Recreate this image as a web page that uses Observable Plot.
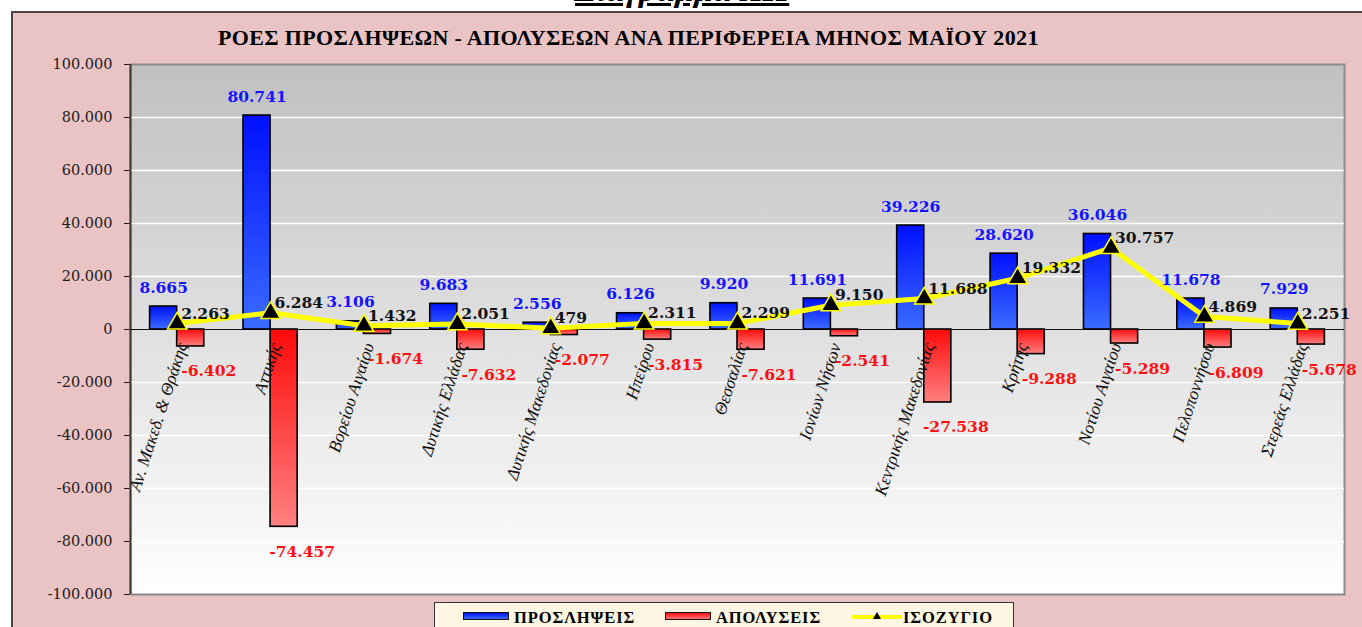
<!DOCTYPE html>
<html><head><meta charset="utf-8">
<script src="https://cdn.jsdelivr.net/npm/d3@7"></script>
<script src="https://cdn.jsdelivr.net/npm/@observablehq/plot@0.6"></script>
<style>
html,body{margin:0;padding:0;background:#fff;width:1362px;height:627px;overflow:hidden;position:relative;font-family:"Liberation Serif",serif}
#heading{position:absolute;left:575px;top:-27px;font:italic bold 34px/34px "Liberation Serif";text-decoration:underline;white-space:nowrap;color:#000}
#panel{position:absolute;left:11px;top:11px;width:1400px;height:700px;background:#eac3c5;border-left:2px solid #4d4444;border-top:2px solid #4d4444}
#title{position:absolute;left:218px;top:25px;font:bold 22px "Liberation Serif";letter-spacing:0.35px;white-space:nowrap;color:#000}
#chart{position:absolute;left:0;top:50px}
#legend{position:absolute;left:434px;top:602px;width:578px;height:40px;background:#fdf6e2;border:1px solid #333}
.li{position:absolute;top:5px;font:bold 16.5px "Liberation Serif";white-space:nowrap;color:#000;letter-spacing:0.9px}
.sw{position:absolute;top:9px;width:44px;height:6px;border:1.5px solid #111}
</style></head>
<body>
<div id="heading">Διάγραμμα ΧΙΙ</div>
<div id="panel"></div>
<div id="title">ΡΟΕΣ ΠΡΟΣΛΗΨΕΩΝ - ΑΠΟΛΥΣΕΩΝ ΑΝΑ ΠΕΡΙΦΕΡΕΙΑ ΜΗΝΟΣ ΜΑΪΟΥ 2021</div>
<div id="chart"></div>
<div id="legend">
  <div class="sw" style="left:28px;background:linear-gradient(#0010ff,#3a6bff)"></div>
  <div class="li" style="left:79px">ΠΡΟΣΛΗΨΕΙΣ</div>
  <div class="sw" style="left:230px;background:linear-gradient(#ff1010,#ff7070)"></div>
  <div class="li" style="left:281px">ΑΠΟΛΥΣΕΙΣ</div>
  <svg style="position:absolute;left:417px;top:6px" width="50" height="14">
    <line x1="0" y1="8" x2="50" y2="8" stroke="#ffff00" stroke-width="4"/>
    <path d="M25,3 L29,10 L21,10 Z" fill="#000"/>
  </svg>
  <div class="li" style="left:468px">ΙΣΟΖΥΓΙΟ</div>
</div>
<script>
const categories = ["Αν. Μακεδ. & Θράκης","Αττικής","Βορείου Αιγαίου","Δυτικής Ελλάδας","Δυτικής Μακεδονίας","Ηπείρου","Θεσσαλίας","Ιονίων Νήσων","Κεντρικής Μακεδονίας","Κρήτης","Νοτίου Αιγαίου","Πελοποννήσου","Στερεάς Ελλάδας"];
const hires   = [8665, 80741, 3106, 9683, 2556, 6126, 9920, 11691, 39226, 28620, 36046, 11678, 7929];
const fires   = [-6402, -74457, -1674, -7632, -2077, -3815, -7621, -2541, -27538, -9288, -5289, -6809, -5678];
const balance = [2263, 6284, 1432, 2051, 479, 2311, 2299, 9150, 11688, 19332, 30757, 4869, 2251];
const yTicks  = [-100000, -80000, -60000, -40000, -20000, 0, 20000, 40000, 60000, 80000, 100000];

const fmt = d3.formatLocale({decimal: ",", thousands: ".", grouping: [3], currency: ["", "€"], minus: "-"}).format(",d");
const idx = categories.map((_, i) => i);
const xDomain = [-0.5, categories.length - 0.5];
const bounds = d3.range(categories.length + 1).map(i => i - 0.5);
const bw = 0.29;

const serif = "DejaVu Serif";
const chart = Plot.plot({
  width: 1362, height: 560,
  marginLeft: 130, marginRight: 18, marginTop: 14, marginBottom: 16,
  style: {background: "transparent", fontFamily: serif, fontSize: "14.5px", color: "#1a1a1a", overflow: "visible"},
  x: {domain: xDomain, axis: null},
  y: {domain: [-100000, 100000], ticks: yTicks, tickFormat: fmt, tickSize: 6, tickPadding: 12, label: null},
  marks: [
    Plot.frame({fill: "url(#bgGrad)", stroke: "#8a8a8a", strokeWidth: 2}),
    Plot.ruleY(yTicks.filter(t => t !== 0 && Math.abs(t) !== 100000), {stroke: "#ffffff", strokeWidth: 1.3}),
    Plot.ruleX([xDomain[0]], {stroke: "#3a3a3a", strokeWidth: 2}),
    Plot.ruleY([0], {stroke: "#111", strokeWidth: 1.2}),
    Plot.ruleX(bounds, {x: d => d, y1: 0, y2: 0, insetTop: 5, insetBottom: -5, stroke: "#111", strokeWidth: 1.2}),
    Plot.rect(idx, {x1: i => i - bw, x2: i => i, y1: 0, y2: i => hires[i], fill: "url(#blueGrad)", stroke: "#000", strokeWidth: 1.6}),
    Plot.rect(idx, {x1: i => i, x2: i => i + bw, y1: 0, y2: i => fires[i], fill: "url(#redGrad)", stroke: "#000", strokeWidth: 1.6}),
    Plot.line(idx, {x: i => i, y: i => balance[i], stroke: "#ffff00", strokeWidth: 5, strokeLinejoin: "round"}),
    Plot.dot(idx, {x: i => i, y: i => balance[i], symbol: "triangle", r: 7.2, fill: "#000", stroke: "#ffff00", strokeWidth: 1.5}),
    Plot.text(idx, {x: i => i - bw / 2, y: i => hires[i], text: i => fmt(hires[i]), lineAnchor: "bottom", dy: -14,
      fill: "#1414ff", fontWeight: "bold", fontSize: 15.5, fontFamily: serif}),
    Plot.text(idx, {x: i => i + bw / 2, y: i => fires[i], text: i => fmt(fires[i]), lineAnchor: "top", dy: 19, dx: 18,
      fill: "#ff1010", fontWeight: "bold", fontSize: 15.5, fontFamily: serif}),
    Plot.text(idx, {x: i => i, y: i => balance[i], text: i => fmt(balance[i]), lineAnchor: "bottom", textAnchor: "start", dx: 4, dy: -5,
      fill: "#111", fontWeight: "bold", fontSize: 15.5, fontFamily: serif}),
    Plot.text(idx, {x: i => i, y: 0, text: i => categories[i], rotate: -72, textAnchor: "end", dx: 5, dy: 14,
      fill: "#111", fontStyle: "italic", fontSize: 17.5, fontFamily: "Liberation Serif"})
  ]
});

const defs = d3.select(chart).insert("defs", ":first-child");
function grad(id, stops) {
  const g = defs.append("linearGradient").attr("id", id).attr("x1", 0).attr("y1", 0).attr("x2", 0).attr("y2", 1);
  stops.forEach(([o, c]) => g.append("stop").attr("offset", o).attr("stop-color", c));
}
grad("bgGrad", [[0, "#c0c0c0"], [1, "#ffffff"]]);
grad("blueGrad", [[0, "#0010ff"], [1, "#3a6bff"]]);
grad("redGrad", [[0, "#ff0a0a"], [1, "#ff8080"]]);

document.getElementById("chart").appendChild(chart);
</script>
</body></html>
